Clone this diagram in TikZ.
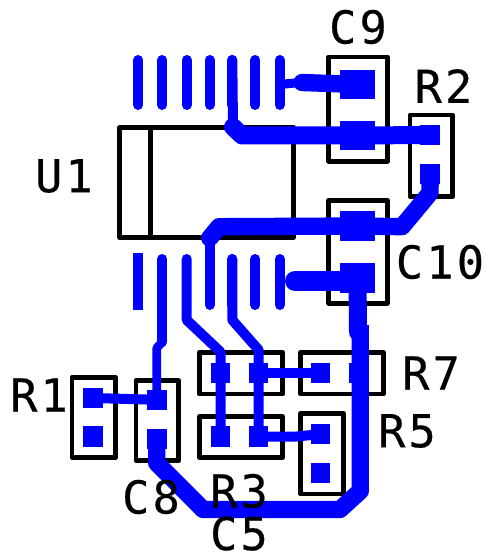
\documentclass[tikz,border=0pt]{standalone}
\usepackage{fontspec}
\setmonofont[LetterSpace=7,FakeBold=0.4]{DejaVu Sans Mono}
\tikzset{every picture/.style={line width=0.75pt}}
\tikzset{
	outline/.style={draw=black,line width=3.5pt,line join=round},
	pad/.style={fill={rgb, 255:red, 0; green, 0; blue, 255},draw=none,inner sep=0pt,outer sep=0pt,minimum width=14.6pt,minimum height=15.4pt},
	bigpad/.style={pad,minimum width=26.2pt,minimum height=22.4pt},
	trace/.style={draw={rgb, 255:red, 0; green, 0; blue, 255},line cap=round,line join=round,line width=#1},
	refdes/.style={inner sep=0pt,outer sep=0pt,font=\fontsize{34}{34}\selectfont\ttfamily}
}

\begin{document}
\begin{tikzpicture}[x=0.75pt,y=0.75pt,yscale=-1,xscale=1]
		\useasboundingbox (0,0) rectangle (485,555);
		\fill [white] (0,0) rectangle (485,555);

		%package outlines
		\draw [outline] (119.7,127.5) rectangle (293.7,237.5);
		\draw [outline] (150.8,127.5) -- (150.8,237.5);
		\draw [outline] (328.7,57) rectangle (387.3,161.3);
		\draw [outline] (328.7,200.3) rectangle (387.3,303.3);
		\draw [outline] (410,115) rectangle (452.7,196.7);
		\draw [outline] (199.3,352.3) rectangle (282.7,394);
		\draw [outline] (300.7,352.3) rectangle (383.3,394);
		\draw [outline] (199.3,416.7) rectangle (282.7,457.3);
		\draw [outline] (300.7,413.3) rectangle (343.3,494);
		\draw [outline] (72,377.3) rectangle (115.7,457.3);
		\draw [outline] (136,380.7) rectangle (178.7,460.7);

		%pads
		\node [bigpad] (c9a) at (357.5,84.5) {};
		\node [bigpad] (c9b) at (357.5,135.5) {};
		\node [bigpad] (c10a) at (357.5,226) {};
		\node [bigpad] (c10b) at (357.5,277.8) {};
		\node [pad] (r2a) at (430.2,135) {};
		\node [pad] (r2b) at (430.2,174) {};
		\node [pad] (r4a) at (220.6,372.8) {};
		\node [pad] (r4b) at (258.7,372.8) {};
		\node [pad] (r7a) at (320.6,372.8) {};
		\node [pad] (r7b) at (358.7,372.8) {};
		\node [pad] (r3a) at (220.6,436.5) {};
		\node [pad] (r3b) at (258.7,436.5) {};
		\node [pad] (r5a) at (320.6,434) {};
		\node [pad] (r5b) at (320.6,472.8) {};
		\node [pad] (r1a) at (92.8,398) {};
		\node [pad] (r1b) at (92.8,436.5) {};
		\node [pad] (c8a) at (156.8,399.8) {};
		\node [pad] (c8b) at (156.8,439) {};

		%pins of U1
		\foreach \n/\x in {1/138.3,2/162.3,3/186.7,4/209.7,5/232.3,6/255.3,7/279.7} {
			\coordinate (t\n) at (\x,60);
			\coordinate (m\n) at (\x,105);
			\coordinate (b\n) at (\x,259);
			\coordinate (e\n) at (\x,305);
			\draw [trace=7.5pt] (t\n) -- (m\n);
		}
		\foreach \n in {5,6,7} {
			\draw [trace=7.5pt] (b\n) -- (e\n);
		}
		\draw [trace=7.5pt,line cap=butt] (138.3,253.5) -- (138.3,310);

		%tracks
		\draw [trace=13.5pt] (233,127) -- (242,135.5) -- (c9b.center) -- (r2a.center);
		\draw [trace=7.5pt] (t5) -- (233,127);
		\draw [trace=13pt] (r2b.center) -- (430,193) -- (402,226.7) -- (c10a.center) -- (219,226.7) -- (209.7,238);
		\draw [trace=7.5pt] (209.7,238) -- (e4);
		\draw [trace=6.8pt] (t7 |- c9a) -- (300,82.5);
		\draw [trace=13pt] (302,82.5) -- (c9a.center);
		\draw [trace=15pt] (295,281) -- (c10b.center |- 0,281);
		\draw [trace=13.5pt] (c10b.center) -- (358,332);
		\draw [trace=7.5pt] (r3a.center) -- (r4a.center) -- (220.6,352) -- (186.7,320) -- (b3);
		\draw [trace=7.5pt] (r3b.center) -- (r4b.center) -- (258.7,350) -- (232.3,320) -- (b5);
		\draw [trace=7.5pt] (r4b.center) -- (r7a.center);
		\draw [trace=7.5pt] (r3b.center) -- (295,436.7) -- (r5a.center);
		\draw [trace=7.5pt] (b2) -- (162.3,342);
		\draw [trace=6.5pt] (162.3,342) -- (156.7,348) -- (c8a.center);
		\draw [trace=7.5pt] (r1a.center) -- (c8a.center);
		\draw [trace=13pt,line cap=butt] (c8b.center) -- (156.7,463) -- (203,509.5) -- (340,509.5) -- (360.3,491) -- (360.3,325);

		%reference designators
		\node [refdes] (u1) at (64,176) {U1};
		\node [refdes] (c9) at (358,27) {C9};
		\node [refdes] (r2) at (443.5,86) {R2};
		\node [refdes] (c10) at (440,262) {C10};
		\node [refdes] (r7) at (431,373) {R7};
		\node [refdes] (r5) at (407,431) {R5};
		\node [refdes] (r1) at (39,395) {R1};
		\node [refdes] (c8) at (151,497) {C8};
		\node [refdes] (r3) at (239,491) {R3};
		\node [refdes] (c5) at (239,533.5) {C5};

		\end{tikzpicture}
\end{document}
